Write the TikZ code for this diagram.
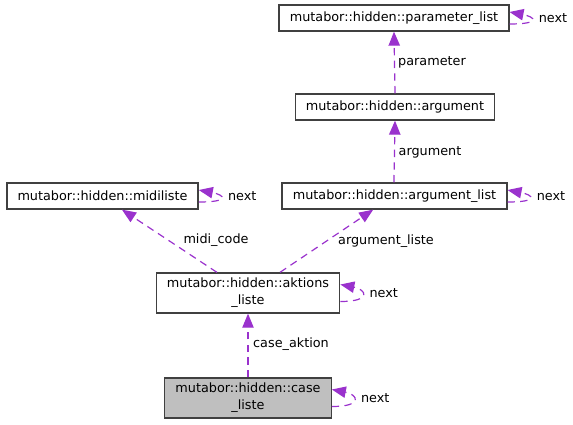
\documentclass[tikz,border=0pt]{standalone}
\usepackage{fontspec}
\setmainfont{DejaVu Sans}
\usetikzlibrary{arrows.meta}
\definecolor{usecol}{HTML}{9A32CD}
\definecolor{boxline}{HTML}{404040}
\definecolor{boxgray}{HTML}{BFBFBF}
\begin{document}
\begin{tikzpicture}[x=0.75pt, y=-0.75pt,
	font=\fontsize{9.6}{12.75}\selectfont,
	cls/.style={draw=boxline, line width=1pt, fill=white, inner xsep=8pt, inner ysep=0pt, minimum height=19.5pt, align=center},
	uses/.style={usecol, dash pattern=on 5.5pt off 4pt, line width=0.9pt, -{Triangle[length=10.5pt,width=8.5pt]}},
	lbl/.style={inner sep=0pt}]
%	\draw [help lines, dashed] (0,0) grid (573,424);  % help lines
	\useasboundingbox (0,0) rectangle (573,424);
	
	% classes
	\node [cls] (plist) at (394,18) {mutabor::hidden::parameter\_list};
	\node [cls] (arg) at (395,107) {mutabor::hidden::argument};
	\node [cls] (alist) at (394.5,196) {mutabor::hidden::argument\_list};
	\node [cls] (midi) at (102.5,196) {mutabor::hidden::midiliste};
	\node [cls, minimum height=30pt] (akt) at (248,293) {mutabor::hidden::aktions\\\_liste};
	\node [cls, minimum height=30pt, fill=boxgray] (case) at (248,398) {mutabor::hidden::case\\\_liste};
	
	% member links
	\draw [uses] (case.north) -- (akt.south);
	\draw [uses] ([xshift=-23.3pt]akt.north) -- ([xshift=14.6pt]midi.south);
	\draw [uses] ([xshift=24pt]akt.north) -- ([xshift=-16pt]alist.south);
	\draw [uses] ([xshift=-0.4pt]alist.north) -- (arg.south);
	\draw [uses] (arg.north) -- (plist.south);
	
	% link labels
	\node [lbl] (l-case) at (291,344) {case\_aktion};
	\node [lbl] (l-midi) at (216,240) {midi\_code};
	\node [lbl] (l-arg) at (386,241) {argument\_liste};
	\node [lbl] (l-argument) at (430,152) {argument};
	\node [lbl] (l-param) at (432,62) {parameter};
	
	% self links
	\foreach \n/\d in {plist/6,alist/6,midi/6,akt/8.5,case/8.5} {
		\draw [uses] ([yshift=-\d*0.75pt]\n.east) .. controls +(32,0) and +(26,5) .. ([yshift=\d*0.75pt]\n.east);
		\node [lbl, anchor=west] (\n-next) at ([xshift=21.75pt]\n.east) {next};
	}
\end{tikzpicture}
\end{document}
